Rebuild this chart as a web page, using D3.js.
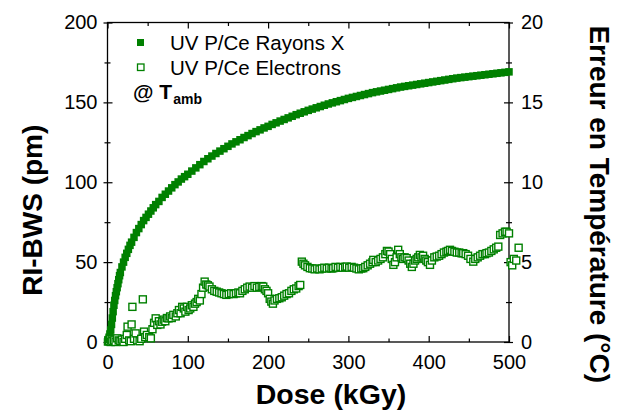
<!DOCTYPE html>
<html><head><meta charset="utf-8">
<script src="https://cdn.jsdelivr.net/npm/d3@7"></script>
<style>body{margin:0;background:#fff}svg{display:block;font-family:"Liberation Sans",Arial,sans-serif}</style>
</head><body><svg id="c" width="627" height="412"></svg>
<script>
const xTicks = [0,100,200,300,400,500];
const yTicks = [0,50,100,150,200];
const y2Ticks = [0,5,10,15,20];
const seriesNames = ["UV P/Ce Rayons X","UV P/Ce Electrons"];

const xrayDose = [0,1,2,3,4,5,6,7,8,9,10,11,12,13,14,15,16,18,20,22,24,26,28,30,33,36,39,42,45,48,51,54,57,60,64,68,72,76,80,84,88,92,96,100,105,110,115,120,125,130,135,140,145,150,155,160,165,170,175,180,185,190,195,200,205,210,215,220,225,230,235,240,245,250,255,260,265,270,275,280,285,290,295,300,305,310,315,320,325,330,335,340,345,350,355,360,365,370,375,380,385,390,395,400,405,410,415,420,425,430,435,440,445,450,455,460,465,470,475,480,485,490,495,500];
const xrayVal = [0,1.5,3,5,7.5,11,15,19,23,26,29,31.5,34,36.5,39,41.5,43.5,47,50,53,55.5,58,60.5,62.5,65.5,68.5,71,73.5,76,78,80,82,84,86,88,90.5,92.5,94.5,96.5,98.5,100.2,102,103.5,105,107,109,111,113,114.7,116.4,118,119.5,121,122.5,124,125.3,126.6,128,129.2,130.5,131.7,132.8,134,135,136.2,137.2,138.3,139.3,140.3,141.3,142.3,143.2,144.1,145,145.8,146.6,147.4,148.2,149,149.7,150.4,151.1,151.8,152.5,153.1,153.7,154.3,154.9,155.5,156.1,156.6,157.1,157.6,158.1,158.6,159.1,159.6,160,160.4,160.8,161.2,161.6,162,162.4,162.8,163.2,163.6,164,164.4,164.8,165.2,165.5,165.8,166.1,166.4,166.7,167,167.3,167.6,167.9,168.2,168.5,168.8,169.1];

const elecDose = [1,2,3,4,5,6,8,10,12,14,16,18,20,22,24,25,27,29,30,31,33,35,37,40,42,44,45.5,47,49,52,54,56,58,60,62,64,66,68,70,72,74,76,78,80,82,85,87,89,91,93,95,97,99,101,103,105,107,109,111,113,115,117,119,121,123,125,127,130,133,136,139,142,145,148,151,154,157,160,163,165,168,171,174,177,180,183,186,189,192,194,196,198,200,202,204,206,208,211,214,217,220,223,226,229,232,235,238,240,242,244,246,249,252,255,258,261,264,267,270,273,276,279,281,284,287,290,293,296,298,301,304,307,310,313,316,318.5,321,324,327,330,331,334,337,340,343,346,348,350,352,354,356,358,360,362,364,366,368,370,372.6,375,377,379,381,383,385,387,389,391,393,395,397,399,401.6,404,407,410,413,416,419,422,424,426.5,429,432,435,438,441,443,446,449,452,455.5,458,461,464,467,470,472,475,478,481,484,486.7,489,492,495,497,500,502,504,506,509,512];
const elecVal = [1,0.5,2,0,1.5,0.5,1,0,2.3,1,0.5,1.5,0,2,4.4,9.6,1,0.5,11,22,2,5.4,1,0.5,2,26.7,6.5,3,4.4,3,2.3,8,12,14.8,10.7,13,11,12.7,14,13,15,14.8,16,15,17,16,18,20,18,22,21,19,22,20,21,23,22,24,25,27,26,30,34,37.8,36,35.5,34.7,33,32,31.5,31,30.5,30,29.5,30,30.5,30,30.5,31,30.5,32,33,34,34.7,34,35,34,34.5,35,34.7,33,32,30.5,27,25.3,24,26,27,27.4,28,29,30,30.5,32,33,33.5,35,35.7,50.3,49,48,47,46.2,46,45.5,46,45.5,46,46.5,46,46.5,46,46.2,47,46.5,47,46.5,47,47.2,46.5,47,46.5,46,45.5,46,46.2,47,48,49,50,51.4,50,51,52,53,55,57,56.6,55,52,48.3,50,53,57.7,55,53,52,53,52.5,51,49,47,49,51,52,53,54.5,53,54,52,51,50,48.3,51,53,53.5,54,55,56,56.5,57,57.7,57,56.5,56,56,55.5,55.6,55,54,52,50.3,52,53,54,55,55,55.6,56,57,58,59,59.7,67,68,69,69,68,50,48,52,51,59];

const m = {left:107.5, right:509, top:22.5, bottom:342};
const svg = d3.select("#c");
const green = "#008000";
const FONT = "Liberation Sans, Arial, sans-serif";

const x = d3.scaleLinear().domain([0,500]).range([m.left, m.right]);
const y = d3.scaleLinear().domain([0,200]).range([m.bottom, m.top]);
const y2 = d3.scaleLinear().domain([0,20]).range([m.bottom, m.top]);

svg.append("rect").attr("x",m.left).attr("y",m.top).attr("width",m.right-m.left).attr("height",m.bottom-m.top)
  .attr("fill","none").attr("stroke","#000").attr("stroke-width",1.3);

const gx = svg.append("g").attr("transform",`translate(0,${m.bottom})`)
  .call(d3.axisBottom(x).tickValues(xTicks).tickSize(-6).tickPadding(13).tickFormat(d3.format("d")));
gx.select(".domain").remove();
const gxm = svg.append("g").attr("transform",`translate(0,${m.bottom})`)
  .call(d3.axisBottom(x).tickValues(d3.range(50,500,100)).tickSize(-3.5).tickFormat(""));
gxm.select(".domain").remove();
const gt = svg.append("g").attr("transform",`translate(0,${m.top})`)
  .call(d3.axisTop(x).tickValues(xTicks).tickSize(-6).tickFormat(""));
gt.select(".domain").remove();
const gtm = svg.append("g").attr("transform",`translate(0,${m.top})`)
  .call(d3.axisTop(x).tickValues(d3.range(50,500,100)).tickSize(-3.5).tickFormat(""));
gtm.select(".domain").remove();

const gy = svg.append("g").attr("transform",`translate(${m.left},0)`)
  .call(d3.axisLeft(y).tickValues(yTicks).tickSize(4).tickPadding(6).tickFormat(d3.format("d")));
gy.select(".domain").remove();
gy.selectAll(".tick line").attr("x2",-4).attr("x1",5);
const gym = svg.append("g").attr("transform",`translate(${m.left},0)`)
  .call(d3.axisLeft(y).tickValues(d3.range(25,200,50)).tickSize(3).tickFormat(""));
gym.select(".domain").remove();
gym.selectAll(".tick line").attr("x2",-3).attr("x1",3);

const gy2 = svg.append("g").attr("transform",`translate(${m.right},0)`)
  .call(d3.axisRight(y2).tickValues(y2Ticks).tickSize(4).tickPadding(8).tickFormat(d3.format("d")));
gy2.select(".domain").remove();
gy2.selectAll(".tick line").attr("x2",4).attr("x1",-5);
const gy2m = svg.append("g").attr("transform",`translate(${m.right},0)`)
  .call(d3.axisRight(y2).tickValues(d3.range(2.5,20,5)).tickSize(3).tickFormat(""));
gy2m.select(".domain").remove();
gy2m.selectAll(".tick line").attr("x2",3).attr("x1",-3);

svg.selectAll(".tick text").attr("font-size",20).attr("font-family",FONT).attr("fill","#000");
svg.selectAll(".tick line").attr("stroke","#000").attr("stroke-width",1.2);

const xray = xrayDose.map((d,i)=>({d, v:xrayVal[i]}));
const elec = elecDose.map((d,i)=>({d, v:elecVal[i]}));
const s1 = 7.5;
svg.append("g").selectAll("rect").data(xray).join("rect")
  .attr("x",p=>x(p.d)-s1/2).attr("y",p=>y(p.v)-s1/2).attr("width",s1).attr("height",s1)
  .attr("fill",green);
const s2 = 7;
svg.append("g").selectAll("rect").data(elec).join("rect")
  .attr("x",p=>x(p.d)-s2/2).attr("y",p=>y(p.v)-s2/2).attr("width",s2).attr("height",s2)
  .attr("fill","#fff").attr("stroke",green).attr("stroke-width",1.4);

const lg = svg.append("g").attr("font-family",FONT);
lg.append("rect").attr("x",137).attr("y",39).attr("width",7).attr("height",7).attr("fill",green);
lg.append("rect").attr("x",137.5).attr("y",64).attr("width",6.5).attr("height",6.5).attr("fill","#fff").attr("stroke",green).attr("stroke-width",1.3);
lg.append("text").attr("x",170).attr("y",49.5).attr("font-size",20.5).text(seriesNames[0]);
lg.append("text").attr("x",170).attr("y",74.5).attr("font-size",20.5).text(seriesNames[1]);
const tt = lg.append("text").attr("x",133).attr("y",99).attr("font-size",21).attr("font-weight","bold");
tt.append("tspan").text("@ T");
tt.append("tspan").attr("font-size",14).attr("dy",5).attr("dx",1).text("amb");

svg.append("text").attr("x",331).attr("y",404).attr("text-anchor","middle").attr("font-family",FONT)
  .attr("font-size",28.5).attr("font-weight","bold").text("Dose (kGy)");
svg.append("text").attr("transform",`translate(42,${(m.top+m.bottom)/2+28}) rotate(-90)`).attr("text-anchor","middle").attr("font-family",FONT)
  .attr("font-size",28).attr("font-weight","bold").text("RI-BWS (pm)");
svg.append("text").attr("transform",`translate(590,${(m.top+m.bottom)/2+22}) rotate(90)`).attr("text-anchor","middle").attr("font-family",FONT)
  .attr("font-size",28).attr("font-weight","bold").text("Erreur en Température (°C)");
</script></body></html>
